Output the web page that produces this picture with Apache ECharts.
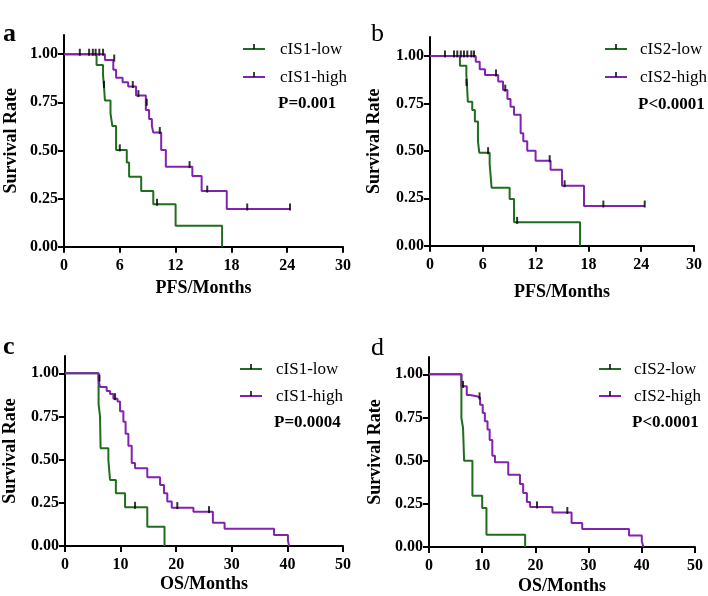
<!DOCTYPE html>
<html><head><meta charset="utf-8">
<script src="https://cdn.jsdelivr.net/npm/echarts@6/dist/echarts.min.js"></script>
<style>html,body{margin:0;padding:0;background:#fff}#c{width:708px;height:596px}</style>
</head><body><div id="c"></div>
<script>
// ---------- data ----------
const yTicks = [0, 0.25, 0.5, 0.75, 1.0];
// Panel a (PFS, cIS1)
const aLowT  = [0, 3.5, 4.2, 4.3, 4.4, 5.0, 5.2, 5.6, 6.75, 7.0, 8.3, 9.6, 12.0, 17.0];
const aLowS  = [1, 0.944, 0.889, 0.833, 0.76, 0.693, 0.627, 0.503, 0.437, 0.364, 0.289, 0.22, 0.109, 0];
const aLowCT = [4.3, 6.0, 10.0];
const aLowCS = [0.833, 0.503, 0.22];
const aHighT = [0, 4.4, 5.3, 5.6, 6.3, 6.9, 7.75, 8.8, 9.15, 9.45, 9.6, 10.45, 10.95, 13.8, 14.8, 17.5, 24.3];
const aHighS = [1, 0.97, 0.92, 0.878, 0.855, 0.832, 0.785, 0.71, 0.664, 0.627, 0.593, 0.503, 0.416, 0.367, 0.289, 0.196, 0.196];
const aHighCT = [1.7, 2.7, 3.1, 3.4, 3.8, 4.2, 5.4, 7.4, 8.0, 8.9, 10.3, 13.5, 15.4, 19.7, 24.3];
const aHighCS = [1, 1, 1, 1, 1, 1, 0.97, 0.832, 0.785, 0.74, 0.593, 0.416, 0.289, 0.196, 0.196];
// Panel b (PFS, cIS2)
const bLowT  = [0, 3.4, 4.13, 4.2, 4.3, 4.8, 5.1, 5.45, 5.6, 6.78, 7.0, 9.05, 9.55, 17.05];
const bLowS  = [1, 0.949, 0.9, 0.85, 0.759, 0.715, 0.654, 0.55, 0.49, 0.43, 0.306, 0.246, 0.123, 0];
const bLowCT = [4.15, 6.6, 9.9];
const bLowCS = [0.85, 0.49, 0.123];
const bHighT = [0, 5.2, 5.65, 6.25, 7.75, 8.3, 8.8, 9.15, 9.55, 10.3, 10.6, 11.05, 12.0, 13.7, 15.0, 17.5, 24.4];
const bHighS = [1, 0.97, 0.93, 0.9, 0.865, 0.82, 0.773, 0.733, 0.69, 0.593, 0.55, 0.5, 0.448, 0.4, 0.316, 0.209, 0.209];
const bHighCT = [1.7, 2.73, 3.1, 3.5, 3.86, 4.24, 4.7, 5.0, 7.5, 8.55, 13.6, 15.3, 19.7, 24.4];
const bHighCS = [1, 1, 1, 1, 1, 1, 1, 1, 0.9, 0.82, 0.448, 0.316, 0.209, 0.209];
// Panel c (OS, cIS1)
const cLowT  = [0, 6.04, 6.3, 6.4, 7.8, 8.1, 9.15, 10.8, 14.8, 17.9];
const cLowS  = [1, 0.82, 0.75, 0.566, 0.498, 0.382, 0.305, 0.224, 0.112, 0];
const cLowCT = [12.6];
const cLowCS = [0.224];
const cHighT = [0, 6.04, 6.3, 7.5, 8.1, 8.7, 9.45, 9.9, 10.5, 10.9, 11.4, 12.0, 12.6, 14.8, 17.1, 17.8, 18.4, 19.2, 23.1, 26.6, 28.7, 37.6, 40.1, 40.3];
const cHighS = [1, 0.96, 0.92, 0.897, 0.88, 0.853, 0.836, 0.78, 0.72, 0.65, 0.58, 0.48, 0.45, 0.398, 0.353, 0.305, 0.257, 0.222, 0.199, 0.135, 0.10, 0.064, 0.03, 0];
const cHighCT = [6.2, 9.0, 20.2, 25.9];
const cHighCS = [0.96, 0.853, 0.222, 0.199];
// Panel d (OS, cIS2)
const dLowT  = [0, 6.09, 6.4, 6.6, 8.16, 10.0, 10.8, 18.07];
const dLowS  = [1, 0.747, 0.689, 0.5, 0.297, 0.226, 0.071, 0];
const dLowCT = [];
const dLowCS = [];
const dHighT = [0, 6.09, 7.1, 7.7, 9.0, 9.6, 10.1, 10.5, 11.0, 11.4, 11.9, 12.4, 14.9, 17.1, 17.7, 18.4, 19.0, 23.2, 26.8, 28.8, 37.6, 40.0, 40.3];
const dHighS = [1, 0.93, 0.88, 0.873, 0.863, 0.824, 0.776, 0.728, 0.68, 0.62, 0.529, 0.49, 0.419, 0.365, 0.313, 0.26, 0.232, 0.2, 0.139, 0.104, 0.066, 0.033, 0];
const dHighCT = [6.4, 9.5, 20.3, 26.0];
const dHighCS = [0.93, 0.863, 0.232, 0.2];

const panels = [
  {letter:'a', bold:true,  xName:'PFS/Months', xMax:30, xInt:6,  low:'cIS1-low', high:'cIS1-high', p:'P=0.001',
   lt:aLowT, ls:aLowS, lct:aLowCT, lcs:aLowCS, ht:aHighT, hs:aHighS, hct:aHighCT, hcs:aHighCS},
  {letter:'b', bold:false, xName:'PFS/Months', xMax:30, xInt:6,  low:'cIS2-low', high:'cIS2-high', p:'P<0.0001',
   lt:bLowT, ls:bLowS, lct:bLowCT, lcs:bLowCS, ht:bHighT, hs:bHighS, hct:bHighCT, hcs:bHighCS},
  {letter:'c', bold:true,  xName:'OS/Months', xMax:50, xInt:10, low:'cIS1-low', high:'cIS1-high', p:'P=0.0004',
   lt:cLowT, ls:cLowS, lct:cLowCT, lcs:cLowCS, ht:cHighT, hs:cHighS, hct:cHighCT, hcs:cHighCS},
  {letter:'d', bold:false, xName:'OS/Months', xMax:50, xInt:10, low:'cIS2-low', high:'cIS2-high', p:'P<0.0001',
   lt:dLowT, ls:dLowS, lct:dLowCT, lcs:dLowCS, ht:dHighT, hs:dHighS, hct:dHighCT, hcs:dHighCS}
];

// ---------- layout ----------
const GREEN = '#1f6e1f', PURPLE = '#8223ae';
const FONT = 'Liberation Serif';
const grids = [
  {left:64,  top:35,  width:279, height:211.7},
  {left:430, top:37,  width:264, height:208.7},
  {left:64,  top:356, width:279, height:190},
  {left:429, top:357, width:266, height:190.3}
];
const xNameGap = [33, 38, 29, 30];
const yNameGap = [44, 47, 46, 45];
const legendPos = [
  {lx:243, tx:280, y1:49, y2:77, py:104},
  {lx:605, tx:640, y1:49, y2:77, py:105},
  {lx:240, tx:276, y1:369, y2:396, py:423},
  {lx:599, tx:634, y1:369, y2:396, py:423}
];
const letterPos = [{x:3,y:21},{x:371,y:21},{x:3,y:334},{x:371,y:335}];

const axisLineStyle = {color:'#000', width:2};
const option = {
  animation:false,
  backgroundColor:'#fff',
  grid: grids.map(g => Object.assign({containLabel:false}, g)),
  xAxis: panels.map((p,i) => ({
    type:'value', gridIndex:i, min:0, max:p.xMax, interval:p.xInt,
    name:p.xName, nameLocation:'middle', nameGap:xNameGap[i],
    nameTextStyle:{fontFamily:FONT, fontWeight:'bold', fontSize:18, color:'#000'},
    axisLine:{show:true, lineStyle:axisLineStyle},
    axisTick:{show:true, length:6, lineStyle:{color:'#000', width:2}},
    axisLabel:{fontFamily:FONT, fontWeight:'bold', fontSize:16, color:'#000', margin:11},
    splitLine:{show:false}
  })),
  yAxis: panels.map((p,i) => ({
    type:'value', gridIndex:i, min:0, max:1.1,
    name:'Survival Rate', nameLocation:'middle', nameGap:yNameGap[i], nameRotate:90,
    nameTextStyle:{fontFamily:FONT, fontWeight:'bold', fontSize:18, color:'#000'},
    axisLine:{show:true, lineStyle:axisLineStyle},
    axisTick:{show:true, length:6, customValues:yTicks, lineStyle:{color:'#000', width:2}},
    axisLabel:{fontFamily:FONT, fontWeight:'bold', fontSize:16, color:'#000', margin:6,
      customValues:yTicks, formatter:v => v.toFixed(2)},
    splitLine:{show:false}
  })),
  series: [],
  graphic: []
};

const pairs = (t, s) => t.map((x, k) => [x, s[k]]);
panels.forEach((p, i) => {
  option.series.push({
    type:'line', name:p.low, xAxisIndex:i, yAxisIndex:i, step:'end', showSymbol:false,
    lineStyle:{color:GREEN, width:2}, itemStyle:{color:GREEN}, data:pairs(p.lt, p.ls), z:3
  });
  option.series.push({
    type:'line', name:p.high, xAxisIndex:i, yAxisIndex:i, step:'end', showSymbol:false,
    lineStyle:{color:PURPLE, width:2}, itemStyle:{color:PURPLE}, data:pairs(p.ht, p.hs), z:3
  });
  option.series.push({
    type:'scatter', name:p.low + ' censored', xAxisIndex:i, yAxisIndex:i,
    symbol:'rect', symbolSize:[2, 7], symbolOffset:[0, -2],
    itemStyle:{color:'#000'}, data:pairs(p.lct, p.lcs), z:4
  });
  option.series.push({
    type:'scatter', name:p.high + ' censored', xAxisIndex:i, yAxisIndex:i,
    symbol:'rect', symbolSize:[2, 7], symbolOffset:[0, -2],
    itemStyle:{color:'#000'}, data:pairs(p.hct, p.hcs), z:4
  });

  const L = legendPos[i];
  [[p.low, GREEN, L.y1], [p.high, PURPLE, L.y2]].forEach(([txt, col, y]) => {
    option.graphic.push({type:'line', shape:{x1:L.lx, y1:y, x2:L.lx + 22, y2:y}, style:{stroke:col, lineWidth:2}});
    option.graphic.push({type:'line', shape:{x1:L.lx + 11, y1:y - 5, x2:L.lx + 11, y2:y}, style:{stroke:'#000', lineWidth:1.5}});
    option.graphic.push({type:'text', x:L.tx, y:y + 1, style:{text:txt, fill:'#000',
      font:'17px "' + FONT + '"', verticalAlign:'middle', align:'left'}});
  });
  option.graphic.push({type:'text', x:L.tx - 2, y:L.py, style:{text:p.p, fill:'#000',
    font:'bold 17px "' + FONT + '"', verticalAlign:'middle', align:'left'}});
  const P = letterPos[i];
  option.graphic.push({type:'text', x:P.x, y:P.y, style:{text:p.letter, fill:'#000',
    font:(p.bold ? 'bold ' : '') + '26px "' + FONT + '"', verticalAlign:'alphabetic', align:'left'}});
});

const chart = echarts.init(document.getElementById('c'), null, {renderer:'canvas'});
chart.setOption(option);
</script>
</body></html>
